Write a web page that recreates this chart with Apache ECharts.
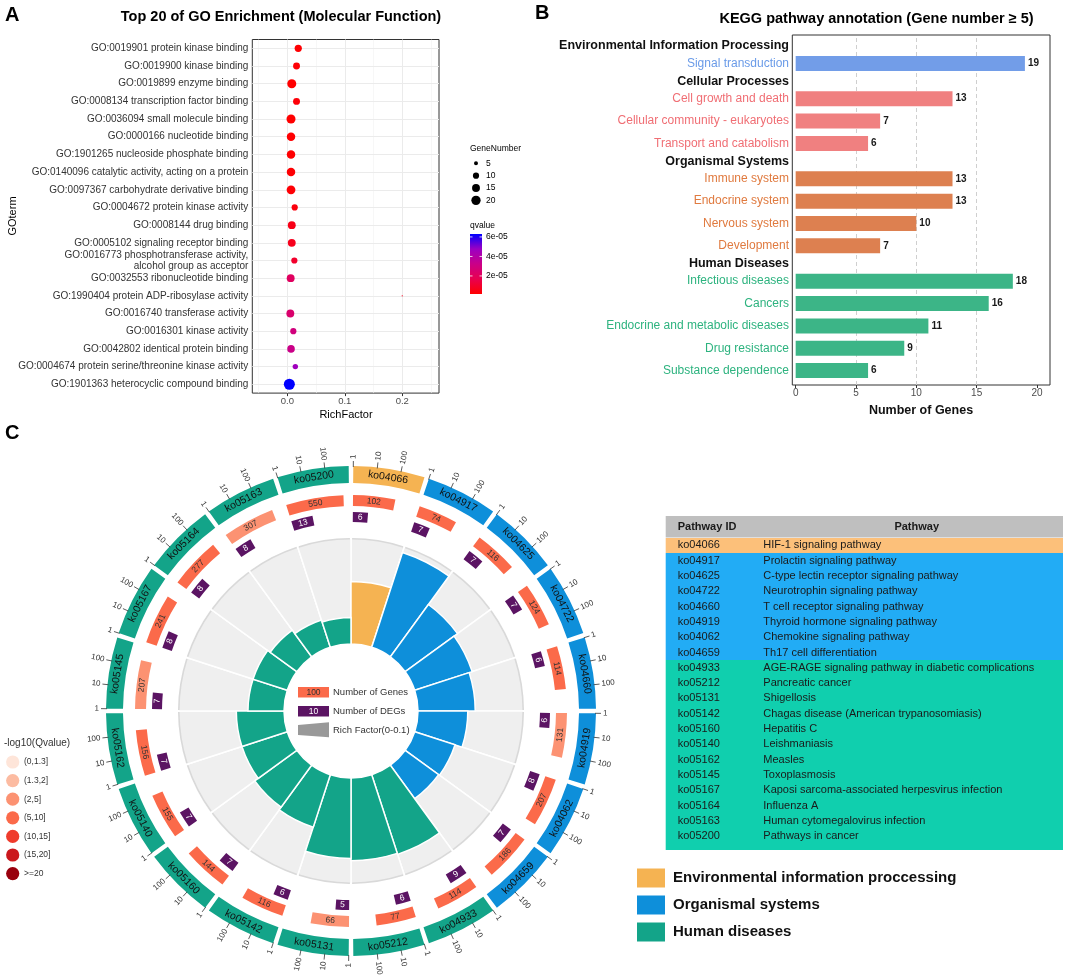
<!DOCTYPE html>
<html>
<head>
<meta charset="utf-8">
<script src="https://cdn.jsdelivr.net/npm/echarts@6.0.0/dist/echarts.min.js"></script>
<style>
html,body{margin:0;padding:0;background:#ffffff;}
#chart{width:1065px;height:977px;}
</style>
</head>
<body>
<div id="chart"></div>
<script>
/* ================= DATA ================= */
/* Panel A : GO enrichment (Molecular Function) */
const goTerms = [
  'GO:0019901 protein kinase binding',
  'GO:0019900 kinase binding',
  'GO:0019899 enzyme binding',
  'GO:0008134 transcription factor binding',
  'GO:0036094 small molecule binding',
  'GO:0000166 nucleotide binding',
  'GO:1901265 nucleoside phosphate binding',
  'GO:0140096 catalytic activity, acting on a protein',
  'GO:0097367 carbohydrate derivative binding',
  'GO:0004672 protein kinase activity',
  'GO:0008144 drug binding',
  'GO:0005102 signaling receptor binding',
  'GO:0016773 phosphotransferase activity,\nalcohol group as acceptor',
  'GO:0032553 ribonucleotide binding',
  'GO:1990404 protein ADP-ribosylase activity',
  'GO:0016740 transferase activity',
  'GO:0016301 kinase activity',
  'GO:0042802 identical protein binding',
  'GO:0004674 protein serine/threonine kinase activity',
  'GO:1901363 heterocyclic compound binding'
];
const goRichFactor = [0.019,0.016,0.0077,0.016,0.0064,0.0064,0.0064,0.0064,0.0064,0.0128,0.0077,0.0077,0.0122,0.0058,0.2,0.0052,0.0104,0.0064,0.0139,0.0035];
const goGeneNumber = [13,12,19,12,19,17,17,17,18,10,15,15,10,15,1,15,10,14,8,27];
const goQvalue = [2.0e-6,2.5e-6,1.5e-6,3.0e-6,1.5e-6,1.8e-6,1.8e-6,2.0e-6,2.5e-6,4e-6,6e-6,7e-6,1.0e-5,2.1e-5,7e-6,2.45e-5,2.9e-5,3.2e-5,4.6e-5,6.3e-5];
const goRichTicks = [0, 0.1, 0.2];
const goRichMinor = [-0.05, 0.05, 0.15, 0.25];
const geneNumberLegend = [5, 10, 15, 20];
const qvalueTicks = [2e-5, 4e-5, 6e-5];

/* Panel B : KEGG annotation */
const keggGroups = ['Environmental Information Processing', 'Cellular Processes', 'Organismal Systems', 'Human Diseases'];
const keggEnvTerms = ['Signal transduction'];
const keggEnvGenes = [19];
const keggCellTerms = ['Cell growth and death', 'Cellular community - eukaryotes', 'Transport and catabolism'];
const keggCellGenes = [13, 7, 6];
const keggOrgTerms = ['Immune system', 'Endocrine system', 'Nervous system', 'Development'];
const keggOrgGenes = [13, 13, 10, 7];
const keggHumTerms = ['Infectious diseases', 'Cancers', 'Endocrine and metabolic diseases', 'Drug resistance', 'Substance dependence'];
const keggHumGenes = [18, 16, 11, 9, 6];
const keggTicks = [0, 5, 10, 15, 20];
const keggDashed = [5, 10, 15];

/* Panel C : enrichment circle + table */
const pathwayIds = ['ko04066','ko04917','ko04625','ko04722','ko04660','ko04919','ko04062','ko04659','ko04933','ko05212',
                    'ko05131','ko05142','ko05160','ko05140','ko05162','ko05145','ko05167','ko05164','ko05163','ko05200'];
const pathwayNames = ['HIF-1 signaling pathway','Prolactin signaling pathway','C-type lectin receptor signaling pathway',
  'Neurotrophin signaling pathway','T cell receptor signaling pathway','Thyroid hormone signaling pathway',
  'Chemokine signaling pathway','Th17 cell differentiation','AGE-RAGE signaling pathway in diabetic complications',
  'Pancreatic cancer','Shigellosis','Chagas disease (American trypanosomiasis)','Hepatitis C','Leishmaniasis',
  'Measles','Toxoplasmosis','Kaposi sarcoma-associated herpesvirus infection','Influenza A',
  'Human cytomegalovirus infection','Pathways in cancer'];
const pathwayClass = [0,1,1,1,1,1,1,1,2,2,2,2,2,2,2,2,2,2,2,2];
const pathwayGenes = [102,74,116,124,114,131,207,186,114,77,66,116,144,155,156,207,241,277,307,550];
const pathwayDEGs = [6,7,7,7,6,6,8,7,9,6,5,6,7,7,7,7,8,8,8,13];
const pathwayRichFactor = [0.059,0.094,0.061,0.057,0.054,0.047,0.040,0.039,0.079,0.078,0.076,0.052,0.049,0.045,0.045,0.034,0.034,0.031,0.027,0.025];
const pathwayNegLog10Q = [6.8,6.1,7.4,7.0,6.3,4.6,8.2,7.9,7.6,6.4,3.8,6.2,6.9,7.1,7.0,4.4,8.5,8.8,4.9,9.3];
const classNames = ['Environmental information proccessing', 'Organismal systems', 'Human diseases'];
const qLegendLabels = ['(0,1.3]','(1.3,2]','(2,5]','(5,10]','(10,15]','(15,20]','>=20'];
const qLegendBreaks = [1.3, 2, 5, 10, 15, 20];
const logTicks = [1, 10, 100];

/* ================= STYLE ================= */
const FONT = "'Liberation Sans', Arial, Helvetica, sans-serif";
const TAU = Math.PI * 2;
const Q_COLORS = ['#FF0000', '#E80050', '#CA0088', '#9B00C3', '#0000FF'];
const KEGG_BAR = ['#729DE8', '#F08080', '#DD8050', '#3CB587'];
const KEGG_LAB = ['#6A9BE8', '#F06E74', '#E07A3F', '#2DB37F'];
const CLASS_COLORS = ['#F5B352', '#0E8FDA', '#13A489'];
const TABLE_COLORS = ['#FCC07A', '#22ACF5', '#10CFAE'];
const REDS = ['#FEE5D9', '#FCBBA1', '#FC9272', '#FB6A4A', '#EF3B2C', '#CB181D', '#99000D'];
const DEG_COLOR = '#5B1463';

function sizeFn(v) { return Math.max(1.3, 2.37 * Math.sqrt(v) - 1.3); }
function qClass(v) { let k = 0; while (k < qLegendBreaks.length && v > qLegendBreaks[k]) k++; return k; }
function fmtExp(q) { const s = q.toExponential(0).split('e'); const e = parseInt(s[1], 10); return s[0] + 'e' + (e < 0 ? '-' : '+') + String(Math.abs(e)).padStart(2, '0'); }

/* ================= LAYOUT ================= */
const A = { left: 252.3, top: 39.5, width: 186.7, height: 353.6, xmin: -0.061, xmax: 0.264 };
const B = { left: 792.3, top: 35, width: 257.7, height: 350, xmin: -0.28, xmax: 21.08, slot: 22.35, headGap: 6.5, firstHead: 45.7 };
const C = { center: [351, 711], track: [67, 173], degs: [189, 199], genes: [205, 216], ring: [228, 245], tickLen: 5, tickLabel: 252, pad: 0.03, decades: 3 };

const grids = [], xAxes = [], yAxes = [], series = [], G = [];

/* ---------- Panel A ---------- */
grids.push({ left: A.left, top: A.top, width: A.width, height: A.height, show: true, borderColor: '#333', borderWidth: 1, backgroundColor: '#fff', outerBoundsMode: 'none', containLabel: false });
xAxes.push({ gridIndex: 0, type: 'value', min: A.xmin, max: A.xmax,
  axisLine: { show: false }, splitLine: { show: false },
  axisTick: { show: true, length: 3, lineStyle: { color: '#333' }, customValues: goRichTicks },
  axisLabel: { customValues: goRichTicks, formatter: v => Number(v).toFixed(1), fontSize: 9.5, color: '#4D4D4D', margin: 3.5, fontFamily: FONT } });
yAxes.push({ gridIndex: 0, type: 'category', data: goTerms, inverse: true,
  axisLine: { show: false }, splitLine: { show: false },
  axisTick: { alignWithLabel: true, length: 3, lineStyle: { color: '#333' } },
  axisLabel: { interval: 0, fontSize: 10, color: '#333', margin: 4, lineHeight: 11, fontFamily: FONT } });

series.push({ type: 'scatter', name: 'GO', xAxisIndex: 0, yAxisIndex: 0, z: 3,
  data: goTerms.map((t, i) => [goRichFactor[i], i, goGeneNumber[i], goQvalue[i]]),
  symbolSize: v => sizeFn(v[2]), itemStyle: { opacity: 1 } });
const aLines = [];
goRichTicks.forEach(v => aLines.push({ xAxis: v, lineStyle: { color: '#EBEBEB', width: 1, type: 'solid' } }));
goRichMinor.forEach(v => aLines.push({ xAxis: v, lineStyle: { color: '#F2F2F2', width: 0.6, type: 'solid' } }));
goTerms.forEach((t, i) => aLines.push({ yAxis: i, lineStyle: { color: '#EBEBEB', width: 1, type: 'solid' } }));
series.push({ type: 'line', xAxisIndex: 0, yAxisIndex: 0, data: [], silent: true, z: 1,
  markLine: { silent: true, z: 1, symbol: ['none', 'none'], label: { show: false }, animation: false, data: aLines } });

// panel A texts & legends
G.push({ type: 'text', x: 5, y: 15, style: { text: 'A', fontSize: 20, fontWeight: 'bold', fill: '#000', fontFamily: FONT, align: 'left', verticalAlign: 'middle' } });
G.push({ type: 'text', x: 281, y: 17, style: { text: 'Top 20 of GO Enrichment (Molecular Function)', fontSize: 14.5, fontWeight: 'bold', fill: '#000', fontFamily: FONT, align: 'center', verticalAlign: 'middle' } });
G.push({ type: 'text', x: 346, y: 415, style: { text: 'RichFactor', fontSize: 11, fill: '#000', fontFamily: FONT, align: 'center', verticalAlign: 'middle' } });
G.push({ type: 'text', x: 13, y: 216, rotation: Math.PI / 2, style: { text: 'GOterm', fontSize: 11, fill: '#000', fontFamily: FONT, align: 'center', verticalAlign: 'middle' } });
G.push({ type: 'text', x: 470, y: 149, style: { text: 'GeneNumber', fontSize: 8.5, fill: '#000', fontFamily: FONT, align: 'left', verticalAlign: 'middle' } });
geneNumberLegend.forEach((g, k) => {
  const y = 163.3 + k * 12.35;
  G.push({ type: 'circle', shape: { cx: 476, cy: y, r: sizeFn(g) / 2 }, style: { fill: '#000' } });
  G.push({ type: 'text', x: 486, y: y, style: { text: String(g), fontSize: 8.5, fill: '#000', fontFamily: FONT, align: 'left', verticalAlign: 'middle' } });
});
const qMin = Math.min(...goQvalue), qMax = Math.max(...goQvalue);
const cb = { x: 470, y: 234, w: 12, h: 60 };
G.push({ type: 'text', x: 470, y: 226, style: { text: 'qvalue', fontSize: 8.5, fill: '#000', fontFamily: FONT, align: 'left', verticalAlign: 'middle' } });
G.push({ type: 'rect', shape: { x: cb.x, y: cb.y, width: cb.w, height: cb.h },
  style: { fill: new echarts.graphic.LinearGradient(0, 0, 0, 1, Q_COLORS.slice().reverse().map((c, k, arr) => ({ offset: k / (arr.length - 1), color: c }))) } });
qvalueTicks.forEach(q => {
  const y = cb.y + cb.h - (q - qMin) / (qMax - qMin) * cb.h;
  G.push({ type: 'line', shape: { x1: cb.x, y1: y, x2: cb.x + 2.5, y2: y }, style: { stroke: '#fff', lineWidth: 0.8 } });
  G.push({ type: 'line', shape: { x1: cb.x + cb.w - 2.5, y1: y, x2: cb.x + cb.w, y2: y }, style: { stroke: '#fff', lineWidth: 0.8 } });
  G.push({ type: 'text', x: 486, y: y, style: { text: fmtExp(q), fontSize: 8.5, fill: '#000', fontFamily: FONT, align: 'left', verticalAlign: 'middle' } });
});

/* ---------- Panel B ---------- */
grids.push({ left: B.left, top: B.top, width: B.width, height: B.height, show: true, borderColor: '#333', borderWidth: 1, backgroundColor: 'transparent', outerBoundsMode: 'none', containLabel: false });
xAxes.push({ gridIndex: 1, type: 'value', min: B.xmin, max: B.xmax,
  axisLine: { show: false }, splitLine: { show: false },
  axisTick: { show: true, length: 3, lineStyle: { color: '#333' }, customValues: keggTicks },
  axisLabel: { customValues: keggTicks, fontSize: 10, color: '#4D4D4D', margin: 3, fontFamily: FONT } });
yAxes.push({ gridIndex: 1, type: 'value', min: 0, max: 1, show: false });
series.push({ type: 'line', xAxisIndex: 1, yAxisIndex: 1, data: [], silent: true, z: 1,
  markLine: { silent: true, z: 1, symbol: ['none', 'none'], label: { show: false }, animation: false,
    data: keggDashed.map(v => ({ xAxis: v, lineStyle: { color: '#CFCFCF', width: 1, type: [4, 3] } })) } });

const keggSets = [[keggEnvTerms, keggEnvGenes], [keggCellTerms, keggCellGenes], [keggOrgTerms, keggOrgGenes], [keggHumTerms, keggHumGenes]];
let headY = B.firstHead;
keggSets.forEach((set, g) => {
  const terms = set[0], genes = set[1];
  const top = headY + B.headGap, h = terms.length * B.slot;
  const gi = grids.length;
  G.push({ type: 'text', x: 789, y: headY, style: { text: keggGroups[g], fontSize: 12.5, fontWeight: 'bold', fill: '#111', fontFamily: FONT, align: 'right', verticalAlign: 'middle' } });
  grids.push({ left: B.left, top: top, width: B.width, height: h, show: false, outerBoundsMode: 'none', containLabel: false });
  xAxes.push({ gridIndex: gi, type: 'value', min: B.xmin, max: B.xmax, show: false });
  yAxes.push({ gridIndex: gi, type: 'category', data: terms, inverse: true,
    axisLine: { show: false }, axisTick: { show: false }, splitLine: { show: false },
    axisLabel: { interval: 0, fontSize: 12, color: KEGG_LAB[g], margin: 3.3, fontFamily: FONT } });
  series.push({ type: 'bar', xAxisIndex: gi, yAxisIndex: gi, data: genes, barWidth: 15, z: 2,
    itemStyle: { color: KEGG_BAR[g] },
    label: { show: true, position: 'right', distance: 3, fontSize: 10, fontWeight: 'bold', color: '#1A1A1A', fontFamily: FONT } });
  headY = top + h + B.headGap;
});
G.push({ type: 'text', x: 535, y: 13, style: { text: 'B', fontSize: 20, fontWeight: 'bold', fill: '#000', fontFamily: FONT, align: 'left', verticalAlign: 'middle' } });
G.push({ type: 'text', x: 876.5, y: 19, style: { text: 'KEGG pathway annotation (Gene number \u2265 5)', fontSize: 14.5, fontWeight: 'bold', fill: '#000', fontFamily: FONT, align: 'center', verticalAlign: 'middle' } });
G.push({ type: 'text', x: 921, y: 410.5, style: { text: 'Number of Genes', fontSize: 12.5, fontWeight: 'bold', fill: '#111', fontFamily: FONT, align: 'center', verticalAlign: 'middle' } });

/* ---------- Panel C : circle ---------- */
function renderPathway(params, api) {
  const i = api.value(0);
  const cs = params.coordSys;
  const cx = cs.cx, cy = cs.cy;
  const scr = a => { const p = api.coord([100, a]); return Math.atan2(p[1] - cy, p[0] - cx); };
  const compass = a => { let f = scr(a) + Math.PI / 2; return ((f % TAU) + TAU) % TAU; };
  const sector = (r0, r1, a0, a1, style) => {
    const s = scr(a0); let e = scr(a1);
    while (e <= s) e += TAU;
    return { type: 'sector', shape: { cx, cy, r0, r: r1, startAngle: s, endAngle: e, clockwise: true }, style };
  };
  const local = v => i + C.pad + (1 - 2 * C.pad) * Math.log10(v) / C.decades;
  const tangText = (r, a, text, fs, fill) => {
    const p = api.coord([r, a]); const phi = compass(a); const deg = phi * 180 / Math.PI;
    const rot = (deg > 90 && deg < 270) ? Math.PI - phi : -phi;
    return { type: 'text', x: p[0], y: p[1], rotation: rot, style: { text, fontSize: fs, fontFamily: FONT, fill, align: 'center', verticalAlign: 'middle' } };
  };
  const radText = (r, a, text) => {
    const p = api.coord([r, a]); const phi = compass(a); const deg = phi * 180 / Math.PI;
    const right = deg < 180;
    return { type: 'text', x: p[0], y: p[1], rotation: right ? Math.PI / 2 - phi : 1.5 * Math.PI - phi,
      style: { text, fontSize: 8, fontFamily: FONT, fill: '#333', align: right ? 'left' : 'right', verticalAlign: 'middle' } };
  };
  const children = [];
  // background track
  children.push(sector(C.track[0], C.track[1], i, i + 1, { fill: '#EFEFEF', stroke: '#fff', lineWidth: 1.5 }));
  children.push(sector(C.track[1] - 1.6, C.track[1], i + 0.02, i + 0.98, { fill: '#D9D9D9' }));
  // outer class ring
  const cls = pathwayClass[i];
  children.push(sector(C.ring[0], C.ring[1], i + C.pad, i + 1 - C.pad, { fill: CLASS_COLORS[cls] }));
  children.push(tangText((C.ring[0] + C.ring[1]) / 2, i + 0.5, pathwayIds[i], 10.5, '#111'));
  // log ticks
  logTicks.forEach(t => {
    const a = local(t);
    const p1 = api.coord([C.ring[1] - 1, a]), p2 = api.coord([C.ring[1] + C.tickLen, a]);
    children.push({ type: 'line', shape: { x1: p1[0], y1: p1[1], x2: p2[0], y2: p2[1] }, style: { stroke: '#333', lineWidth: 0.8 } });
    children.push(radText(C.tickLabel, a, String(t)));
  });
  // genes bar
  const g = pathwayGenes[i], gEnd = local(g);
  children.push(sector(C.genes[0], C.genes[1], i + C.pad, gEnd, { fill: REDS[qClass(pathwayNegLog10Q[i])] }));
  children.push(tangText((C.genes[0] + C.genes[1]) / 2, (i + C.pad + gEnd) / 2, String(g), 8.5, '#333'));
  // DEG box
  const d = pathwayDEGs[i], dEnd = local(d);
  children.push(sector(C.degs[0], C.degs[1], i + C.pad, dEnd, { fill: DEG_COLOR }));
  children.push(tangText((C.degs[0] + C.degs[1]) / 2, (i + C.pad + dEnd) / 2, String(d), 8.5, '#fff'));
  return { type: 'group', children };
}
series.push({ type: 'custom', coordinateSystem: 'polar', polarIndex: 0, z: 2, silent: true,
  data: pathwayIds.map((id, i) => [i, 0]), renderItem: renderPathway });
series.push({ type: 'bar', coordinateSystem: 'polar', polarIndex: 1, z: 3, barCategoryGap: '0%',
  data: pathwayRichFactor,
  itemStyle: { color: p => CLASS_COLORS[pathwayClass[p.dataIndex]], borderColor: '#fff', borderWidth: 1.5 } });

// centre legend
G.push({ type: 'rect', shape: { x: 298, y: 687, width: 31, height: 10.5 }, style: { fill: REDS[3] } });
G.push({ type: 'text', x: 313.5, y: 692.3, style: { text: '100', fontSize: 8.5, fill: '#333', fontFamily: FONT, align: 'center', verticalAlign: 'middle' } });
G.push({ type: 'text', x: 333, y: 692, style: { text: 'Number of Genes', fontSize: 9.5, fill: '#333', fontFamily: FONT, align: 'left', verticalAlign: 'middle' } });
G.push({ type: 'rect', shape: { x: 298, y: 706, width: 31, height: 10.5 }, style: { fill: DEG_COLOR } });
G.push({ type: 'text', x: 313.5, y: 711.3, style: { text: '10', fontSize: 8.5, fill: '#fff', fontFamily: FONT, align: 'center', verticalAlign: 'middle' } });
G.push({ type: 'text', x: 333, y: 711, style: { text: 'Number of DEGs', fontSize: 9.5, fill: '#333', fontFamily: FONT, align: 'left', verticalAlign: 'middle' } });
G.push({ type: 'polygon', shape: { points: [[298, 725], [329, 722.3], [329, 737.3], [298, 735]] }, style: { fill: '#999' } });
G.push({ type: 'text', x: 333, y: 730, style: { text: 'Rich Factor(0-0.1)', fontSize: 9.5, fill: '#333', fontFamily: FONT, align: 'left', verticalAlign: 'middle' } });

// left Q legend
G.push({ type: 'text', x: 5, y: 433, style: { text: 'C', fontSize: 20, fontWeight: 'bold', fill: '#000', fontFamily: FONT, align: 'left', verticalAlign: 'middle' } });
G.push({ type: 'text', x: 4, y: 743, style: { text: '-log10(Qvalue)', fontSize: 10, fill: '#333', fontFamily: FONT, align: 'left', verticalAlign: 'middle' } });
qLegendLabels.forEach((lab, k) => {
  const y = 762 + k * 18.6;
  G.push({ type: 'circle', shape: { cx: 12.7, cy: y, r: 6.6 }, style: { fill: REDS[k] } });
  G.push({ type: 'text', x: 24, y: y, style: { text: lab, fontSize: 8.5, fill: '#333', fontFamily: FONT, align: 'left', verticalAlign: 'middle' } });
});

// table: background blocks per class run, then text
const T = { x: 665.7, w: 397.3, headY: 516, headH: 21.5, rowH: 15.33, bottom: 850, idX: 677.7, nameX: 763.3 };
G.push({ type: 'rect', shape: { x: T.x, y: T.headY, width: T.w, height: T.headH }, style: { fill: '#BFBFBF' } });
G.push({ type: 'text', x: T.idX, y: T.headY + T.headH / 2, style: { text: 'Pathway ID', fontSize: 11, fontWeight: 'bold', fill: '#1A1A1A', fontFamily: FONT, align: 'left', verticalAlign: 'middle' } });
G.push({ type: 'text', x: 916.7, y: T.headY + T.headH / 2, style: { text: 'Pathway', fontSize: 11, fontWeight: 'bold', fill: '#1A1A1A', fontFamily: FONT, align: 'center', verticalAlign: 'middle' } });
const rowTop = T.headY + T.headH;
let runStart = 0;
for (let k = 1; k <= pathwayIds.length; k++) {
  if (k === pathwayIds.length || pathwayClass[k] !== pathwayClass[runStart]) {
    const y0 = Math.round(rowTop + runStart * T.rowH);
    const y1 = k === pathwayIds.length ? T.bottom : Math.round(rowTop + k * T.rowH);
    G.push({ type: 'rect', shape: { x: T.x, y: y0, width: T.w, height: y1 - y0 }, style: { fill: TABLE_COLORS[pathwayClass[runStart]] } });
    runStart = k;
  }
}
pathwayIds.forEach((id, k) => {
  const yc = rowTop + k * T.rowH + T.rowH / 2;
  G.push({ type: 'text', x: T.idX, y: yc, style: { text: id, fontSize: 11, fill: '#1A1A1A', fontFamily: FONT, align: 'left', verticalAlign: 'middle' } });
  G.push({ type: 'text', x: T.nameX, y: yc, style: { text: pathwayNames[k], fontSize: 11, fill: '#1A1A1A', fontFamily: FONT, align: 'left', verticalAlign: 'middle' } });
});
// class legend
classNames.forEach((n, k) => {
  const y = 878 + k * 27;
  G.push({ type: 'rect', shape: { x: 637, y: y - 9.5, width: 28, height: 19 }, style: { fill: CLASS_COLORS[k] } });
  G.push({ type: 'text', x: 673, y: y, style: { text: n, fontSize: 15, fontWeight: 'bold', fill: '#111', fontFamily: FONT, align: 'left', verticalAlign: 'middle' } });
});
G.forEach(e => { e.z = 20; });

/* ================= OPTION ================= */
const option = {
  animation: false,
  backgroundColor: '#ffffff',
  textStyle: { fontFamily: FONT },
  grid: grids,
  xAxis: xAxes,
  yAxis: yAxes,
  polar: [
    { center: C.center, radius: C.ring[1] },
    { center: C.center, radius: C.track }
  ],
  angleAxis: [
    { polarIndex: 0, type: 'value', min: 0, max: pathwayIds.length, startAngle: 90, clockwise: true, show: false },
    { polarIndex: 1, type: 'category', data: pathwayIds, startAngle: 90, clockwise: true, show: false }
  ],
  radiusAxis: [
    { polarIndex: 0, type: 'value', min: 0, max: C.ring[1], show: false },
    { polarIndex: 1, type: 'value', min: 0, max: 0.1, show: false }
  ],
  visualMap: [{ type: 'continuous', show: false, seriesIndex: 0, dimension: 3, min: qMin, max: qMax, inRange: { color: Q_COLORS } }],
  series: series,
  graphic: { elements: G }
};
const chart = echarts.init(document.getElementById('chart'), null, { renderer: 'canvas' });
chart.setOption(option);
</script>
</body>
</html>
